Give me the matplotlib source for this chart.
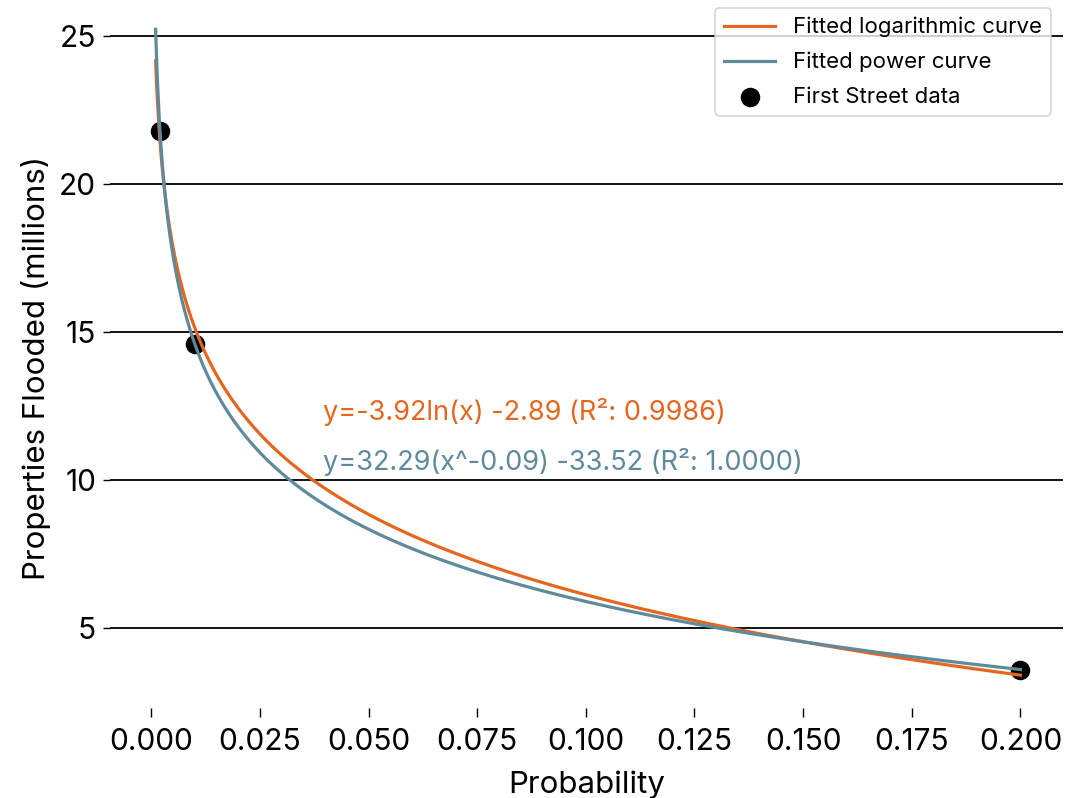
import numpy as np
import matplotlib
matplotlib.use("Agg")
import matplotlib.pyplot as plt

# Data
prob = [0.002, 0.01, 0.2]
flooded = [21.8, 14.6, 3.6]

log_label = "Fitted logarithmic curve"
pow_label = "Fitted power curve"
data_label = "First Street data"
log_text = "y=-3.92ln(x) -2.89 (R²: 0.9986)"
pow_text = "y=32.29(x^-0.09) -33.52 (R²: 1.0000)"
x_label = "Probability"
y_label = "Properties Flooded (millions)"

ORANGE = "#E4661F"
BLUE = "#5E8A9B"

plt.rcParams['font.family'] = ['Inter', 'DejaVu Sans']

xd = np.array(prob)
yd = np.array(flooded)

# Logarithmic fit y = a ln(x) + b
la, lb = np.polyfit(np.log(xd), yd, 1)

# Power fit y = a x^b + c (exact through three points), solved by bisection
target = (yd[0] - yd[1]) / (yd[1] - yd[2])
def f(b):
    p = xd ** b
    return (p[0] - p[1]) / (p[1] - p[2]) - target
lo, hi = -0.5, -1e-4
for _ in range(200):
    mid = 0.5 * (lo + hi)
    if f(lo) * f(mid) <= 0:
        hi = mid
    else:
        lo = mid
pb = 0.5 * (lo + hi)
pa = (yd[1] - yd[2]) / (xd[1] ** pb - xd[2] ** pb)
pc = yd[2] - pa * xd[2] ** pb

xs = np.linspace(0.001, 0.2, 1000)

fig = plt.figure(figsize=(10.67, 7.98), dpi=100)
ax = fig.add_axes([110/1067, 1-708/798, (1063-110)/1067, (708-27)/798])

ax.plot(xs, la * np.log(xs) + lb, color=ORANGE, lw=2.3, label=log_label, zorder=3)
ax.plot(xs, pa * xs ** pb + pc, color=BLUE, lw=2.3, label=pow_label, zorder=4)
ax.scatter(xd, yd, s=170, color="black", label=data_label, zorder=2)

ax.set_xlim(-0.0095, 0.2098)
ax.set_ylim(2.3, 25.3)
ax.set_yticks([5, 10, 15, 20, 25])
ax.set_xticks(np.arange(0, 0.201, 0.025))
ax.grid(axis='y', color='black', lw=1.3)
ax.set_axisbelow(True)
for s in ax.spines.values():
    s.set_visible(False)
ax.tick_params(axis='x', length=6.5, width=1, labelsize=21.5, pad=8)
ax.tick_params(axis='y', length=5, width=1, labelsize=21.5, pad=5)

ax.set_xlabel(x_label, fontsize=22.5, labelpad=10)
ax.set_ylabel(y_label, fontsize=22.5, labelpad=6)

ax.text(0.0395, 12.3, log_text, color=ORANGE, fontsize=19.5, va='center', ha='left')
ax.text(0.0395, 10.6, pow_text, color=BLUE, fontsize=19.5, va='center', ha='left')

leg = fig.legend(loc='upper right', bbox_to_anchor=(1051/1067, 1-8/798),
                 borderaxespad=0, fontsize=16, frameon=True, fancybox=True,
                 edgecolor='#cccccc', handlelength=2.3, markerscale=1.0,
                 labelspacing=0.65)
leg.get_frame().set_linewidth(1.2)

fig.savefig("out.png", dpi=100)
